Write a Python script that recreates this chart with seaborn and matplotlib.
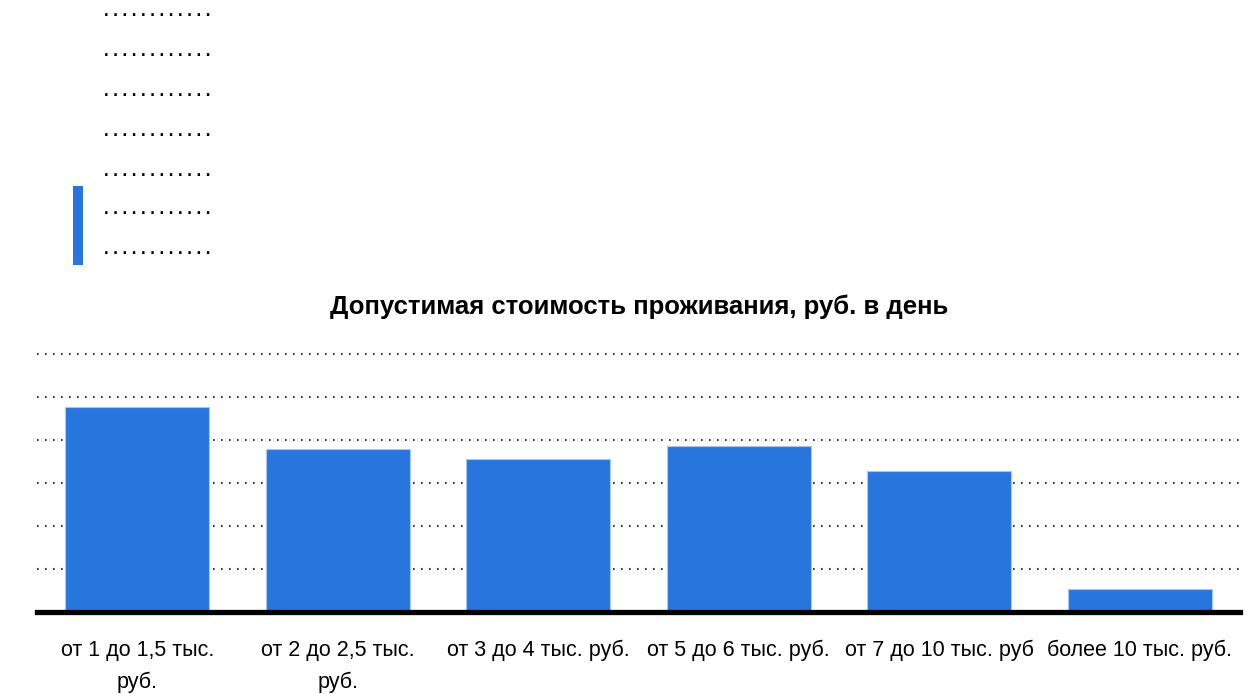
import matplotlib
matplotlib.use("Agg")
import matplotlib.pyplot as plt
import seaborn as sns
import pandas as pd
from matplotlib.patches import Rectangle

categories = ["от 1 до 1,5 тыс.\nруб.", "от 2 до 2,5 тыс.\nруб.", "от 3 до 4 тыс. руб.",
              "от 5 до 6 тыс. руб.", "от 7 до 10 тыс. руб", "более 10 тыс. руб."]
values = [23.8, 18.9, 17.8, 19.3, 16.35, 2.7]
title = "Допустимая стоимость проживания, руб. в день"
legend_rows = 7

sns.set_theme(style="white")
plt.rcParams['font.family'] = ['Liberation Sans', 'DejaVu Sans']

df = pd.DataFrame({"cat": categories, "val": values})
fig = plt.figure(figsize=(12.5, 6.94), dpi=100)
W, H = 1250, 694
bottom_px, top_px = 612, 345.1
ax = fig.add_axes([37 / W, (H - bottom_px) / H, 1203 / W, (bottom_px - top_px) / H])

sns.barplot(data=df, x="cat", y="val", color="#2876DD", saturation=1, width=0.72,
            edgecolor="#a9c8f0", linewidth=0.8, ax=ax, zorder=3)
ax.set_ylim(0, 31)
ax.set_yticks([5, 10, 15, 20, 25, 30])
ax.set_yticklabels([])
ax.tick_params(axis="y", length=0)
ax.yaxis.grid(True, color="#3a3a3a", linestyle=(0, (0.8, 3.04)), linewidth=1.5, zorder=0)
ax.set_axisbelow(True)
ax.xaxis.grid(False)
for s in ["top", "right", "left"]:
    ax.spines[s].set_visible(False)
ax.spines["bottom"].set_color("black")
ax.spines["bottom"].set_linewidth(3.8)
ax.spines["bottom"].set_zorder(5)
ax.set_xlabel("")
ax.set_ylabel("")
ax.tick_params(axis="x", length=0, pad=20, labelsize=15.5, colors="black")
for t in ax.get_xticklabels():
    t.set_linespacing(1.68)
    t.set_va("top")

fig.text(639.5 / W, 1 - 307 / H, title, ha="center", va="center",
         fontsize=18.5, fontweight="bold", color="black")

# legend block at top-left
row_y = [14, 54, 93, 133, 173, 212, 252]
for y in row_y[:legend_rows]:
    fig.text(104 / W, 1 - (y + 2.5) / H, ". . . . . . . . . . . .", ha="left", va="baseline",
             fontsize=12, fontweight="bold", color="black", family=["Liberation Sans", "DejaVu Sans"])
fig.patches.append(Rectangle((73 / W, 1 - 265 / H), 10 / W, 79 / H,
                             transform=fig.transFigure, facecolor="#2876DD", edgecolor="none"))

fig.savefig("out.png", dpi=100, facecolor="white")
